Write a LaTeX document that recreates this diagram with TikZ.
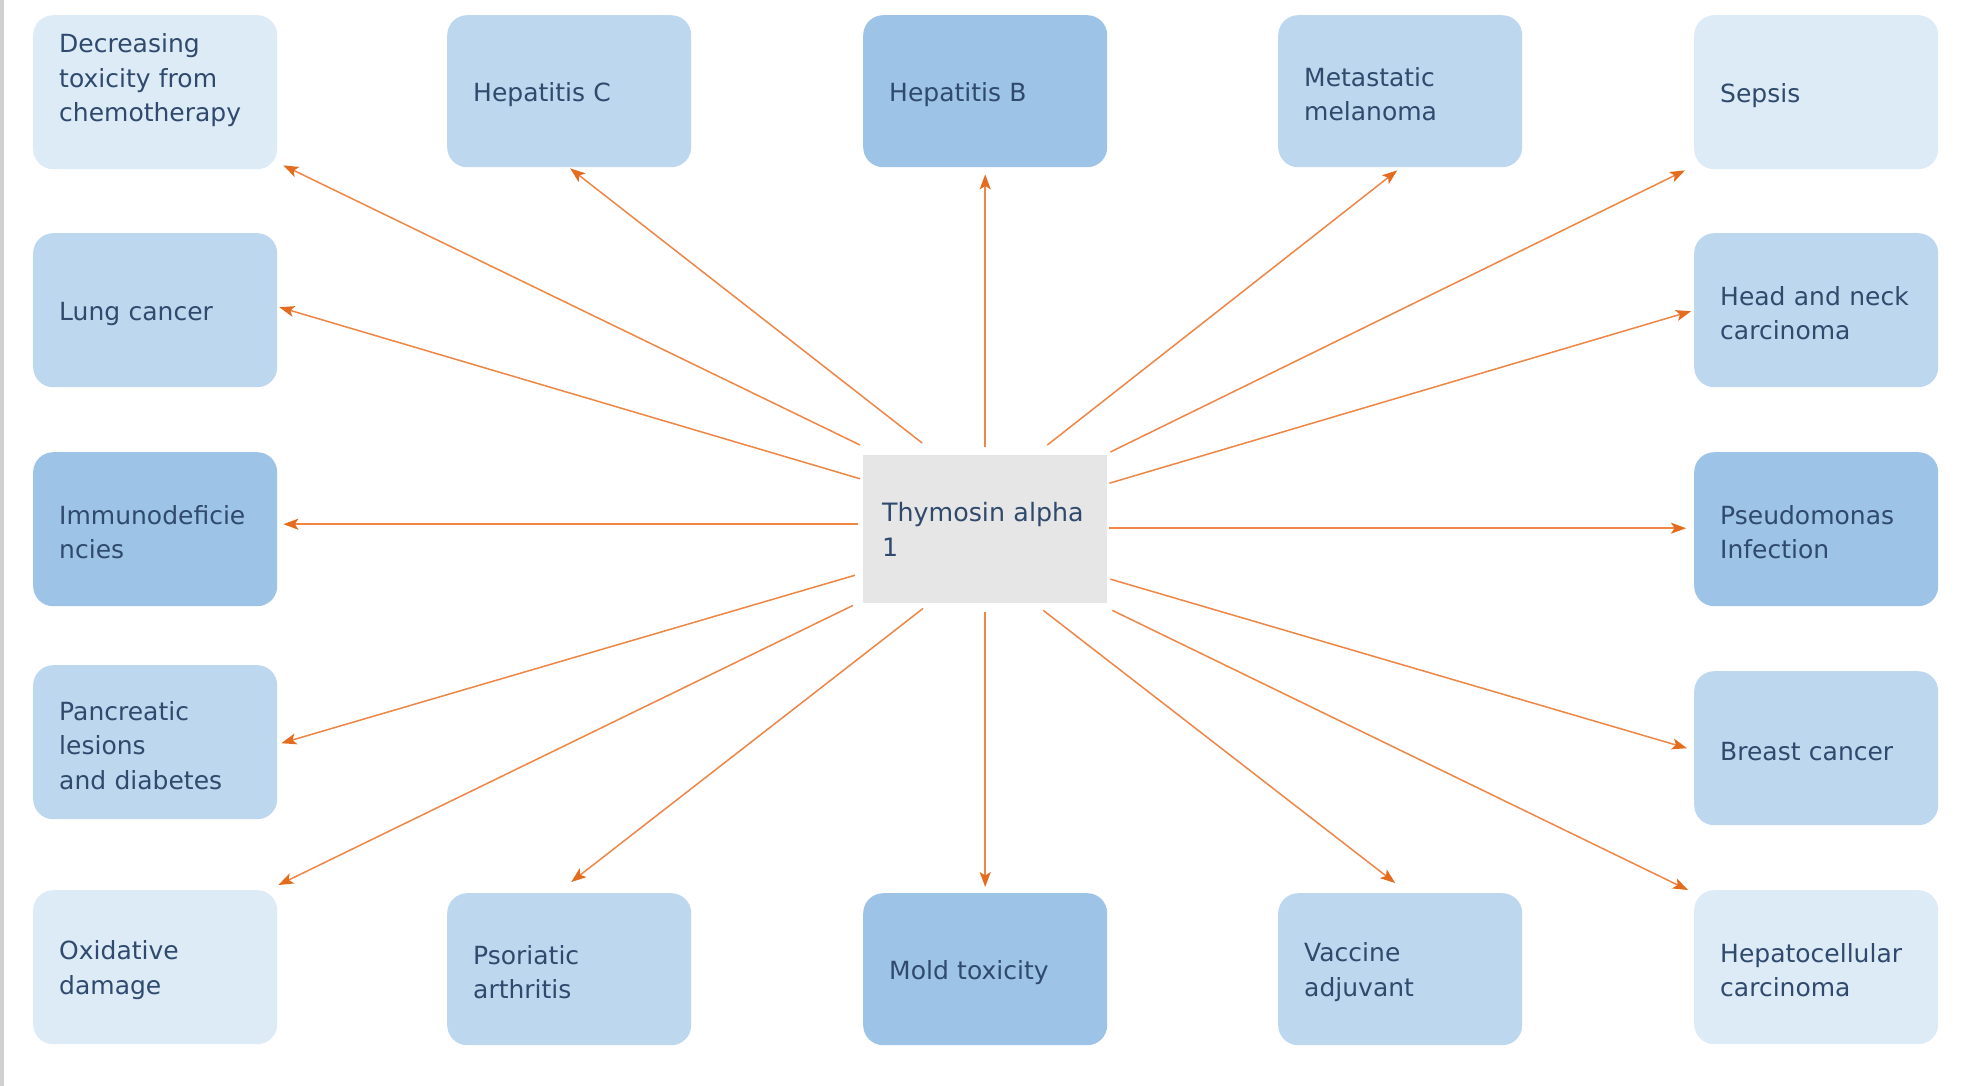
\documentclass[tikz,border=0pt]{standalone}
\usepackage{fontspec}
\setmainfont{DejaVu Sans}
\usetikzlibrary{arrows.meta,calc}
\definecolor{bLight}{HTML}{DDEBF7}
\definecolor{bMid}{HTML}{BDD7EE}
\definecolor{bDark}{HTML}{9DC3E6}
\definecolor{cGray}{HTML}{E7E6E6}
\definecolor{txt}{HTML}{2F4A6D}
\definecolor{arr}{HTML}{EE8645}
\definecolor{arrhead}{HTML}{E46C1E}
\definecolor{edgegray}{HTML}{D0D0D0}
\begin{document}
\begin{tikzpicture}[x=1pt,y=-1pt,
  box/.style={rounded corners=20pt, minimum height=154pt, text width=192pt,
    inner xsep=26pt, inner ysep=0pt, align=left, text=txt,
    font=\fontsize{25}{34.5}\selectfont, anchor=north west,
    execute at begin node={\rule{0pt}{25pt}}},
  light/.style={box, fill=bLight},
  mid/.style={box, fill=bMid},
  dark/.style={box, fill=bDark},
  short/.style={minimum height=152pt},
  nostrut/.style={execute at begin node={}},
  centerbox/.style={fill=cGray, minimum height=148pt, text width=206pt,
    inner xsep=19pt, inner ysep=0pt, align=left, text=txt,
    font=\fontsize{25.3}{35}\selectfont, anchor=north west},
  link/.style={draw=arr, line width=1.5pt,
    -{Stealth[length=15pt,width=11pt,inset=3.5pt,color=arrhead,fill=arrhead]}}]
\fill[white] (0,0) rectangle (1964,1086);
\useasboundingbox (0,0) rectangle (1964,1086);
\fill[edgegray] (0,0) rectangle (4,1086);

% top row
\node[light,nostrut] (dec) at (33,15) {Decreasing\\toxicity from\\chemotherapy\\\mbox{}};
\node[mid,short] (hepc) at (447,15) {Hepatitis C};
\node[dark,short] (hepb) at (863,15) {Hepatitis B};
\node[mid,short] (meta) at (1278,15) {Metastatic\\melanoma};
\node[light] (sepsis) at (1694,15) {Sepsis};
% side columns
\node[mid] (lung) at (33,233) {Lung cancer};
\node[mid] (hn) at (1694,233) {Head and neck\\carcinoma};
\node[dark] (immuno) at (33,452) {Immunodeficie\\ncies};
\node[dark] (pseudo) at (1694,452) {Pseudomonas\\Infection};
\node[mid] (panc) at (33,665) {Pancreatic\\lesions\\and diabetes};
\node[mid] (breast) at (1694,671) {Breast cancer};
% bottom row
\node[light] (ox) at (33,890) {Oxidative\\damage};
\node[mid,short] (pso) at (447,893) {Psoriatic\\arthritis};
\node[dark,short] (mold) at (863,893) {Mold toxicity};
\node[mid,short] (vac) at (1278,893) {Vaccine\\adjuvant};
\node[light] (hc) at (1694,890) {Hepatocellular\\carcinoma};
% center
\node[centerbox] (c) at (863,455) {Thymosin alpha\\1};

% connectors
\draw[link] ($(c.north west)+(-3,-10)$) -- ($(dec.south east)+(6,-4)$);
\draw[link] ($(c.north west)!0.25!(c.north east)+(-2,-12)$) -- ($(hepc.south)+(1,1)$);
\draw[link] ($(c.north)+(0,-8)$) -- ($(hepb.south)+(0,7)$);
\draw[link] ($(c.north west)!0.75!(c.north east)+(1,-10)$) -- ($(meta.south)+(-3,3)$);
\draw[link] ($(c.north east)+(3,-3)$) -- ($(sepsis.south west)+(-9,1)$);
\draw[link] ($(c.north east)!0.19!(c.south east)+(2,0)$) -- ($(hn.west)+(-3,1)$);
\draw[link] ($(c.east)+(2,-1)$) -- ($(pseudo.west)+(-8,-1)$);
\draw[link] ($(c.north east)!0.83!(c.south east)+(3,1)$) -- ($(breast.west)+(-7,0)$);
\draw[link] ($(c.south east)+(5,7)$) -- ($(hc.north west)+(-6,0)$);
\draw[link] ($(c.south west)!0.75!(c.south east)+(-3,7)$) -- ($(vac.north)+(-5,-10)$);
\draw[link] ($(c.south)+(0,9)$) -- ($(mold.north)+(0,-6)$);
\draw[link] ($(c.south west)!0.25!(c.south east)+(-1,5)$) -- ($(pso.north)+(2,-11)$);
\draw[link] ($(c.south west)+(-10,2)$) -- ($(ox.north east)+(1,-5)$);
\draw[link] ($(c.north west)!0.79!(c.south west)+(-8,3)$) -- ($(panc.east)+(4,1)$);
\draw[link] ($(c.west)+(-5,-5)$) -- ($(immuno.east)+(6,-5)$);
\draw[link] ($(c.north west)!0.16!(c.south west)+(-3,0)$) -- ($(lung.east)+(2,-3)$);
\end{tikzpicture}
\end{document}
